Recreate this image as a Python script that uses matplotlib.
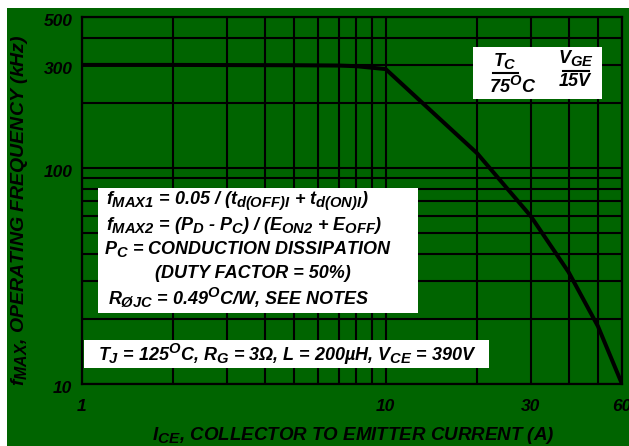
import matplotlib
matplotlib.use("Agg")
from matplotlib import pyplot as plt
from matplotlib.patches import Rectangle
from matplotlib.transforms import ScaledTranslation
import matplotlib._mathtext as mt

# bigger subscripts, like the reference
mt.SHRINK_FACTOR = 0.82

# curve
ice = [1, 2, 5, 7, 8, 10, 20, 30, 40, 50, 60]
fmax = [300, 300, 299, 298, 296, 287, 117, 60, 33, 18.5, 10]

x_grid = [1, 2, 3, 4, 5, 6, 7, 8, 9, 10, 20, 30, 40, 50, 60]
x_labels = {1: "1", 10: "10", 30: "30", 60: "60"}
y_grid = [10, 20, 30, 40, 50, 60, 70, 80, 90, 100, 200, 300, 400, 500]
y_labels = {10: "10", 100: "100", 300: "300", 500: "500"}

green = "#006400"
W, H = 629, 446

plt.rcParams["font.family"] = ["Liberation Sans", "DejaVu Sans"]
plt.rcParams["font.weight"] = "bold"
plt.rcParams["font.style"] = "italic"
plt.rcParams["mathtext.fontset"] = "custom"
plt.rcParams["mathtext.rm"] = "Liberation Sans:italic:bold"
plt.rcParams["mathtext.it"] = "Liberation Sans:italic:bold"
plt.rcParams["mathtext.bf"] = "Liberation Sans:italic:bold"

fig = plt.figure(figsize=(W / 100, H / 100), dpi=100)
fig.patch.set_facecolor("white")


def fx(x):
    return x / W


def fy(y):
    return 1 - y / H


# green backdrop
fig.patches.append(Rectangle((fx(7), 0), 1, fy(8), transform=fig.transFigure,
                             facecolor=green, edgecolor="none", zorder=-5))

ax = fig.add_axes([fx(82), fy(384), (622 - 82) / W, (384 - 17) / H])
ax.set_facecolor(green)
ax.set_xscale("log")
ax.set_yscale("log")
ax.set_xlim(1, 60)
ax.set_ylim(10, 500)

ax.set_xticks(x_grid, [x_labels.get(v, "") for v in x_grid])
ax.set_yticks(y_grid, [y_labels.get(v, "") for v in y_grid])
ax.minorticks_off()
ax.tick_params(length=0, labelsize=12.5)
ax.tick_params(axis="x", pad=11)
ax.tick_params(axis="y", pad=7)
shift = ScaledTranslation(0, -3 / 100, fig.dpi_scale_trans)
for lbl in ax.get_yticklabels():
    lbl.set_transform(lbl.get_transform() + shift)
ax.grid(True, color="black", linewidth=1.5)
for s in ax.spines.values():
    s.set_linewidth(1.6)
    s.set_color("black")

ax.plot(ice, fmax, color="black", linewidth=2.9, solid_joinstyle="miter", zorder=3)

fig.text(fx(20), fy(210), r"$f_{MAX}$, OPERATING FREQUENCY (kHz)", rotation=90,
         ha="center", va="center", fontsize=14)
fig.text(fx(353), fy(436), r"$I_{CE}$, COLLECTOR TO EMITTER CURRENT (A)",
         ha="center", va="center", fontsize=13.5)


def box(x0, y0, x1, y1):
    fig.patches.append(Rectangle((fx(x0), fy(y1)), (x1 - x0) / W, (y1 - y0) / H,
                                 transform=fig.transFigure, facecolor="white",
                                 edgecolor="none", zorder=5))


box(473, 47, 602, 99)
box(98, 188, 418, 313)
box(84, 340, 489, 368)

fs = 13
fig.text(fx(505), fy(61), r"$T_C$", ha="center", va="center", fontsize=fs, zorder=6)
fig.text(fx(513), fy(86), r"75$^O$C", ha="center", va="center", fontsize=fs, zorder=6)
fig.text(fx(576), fy(58), r"$V_{GE}$", ha="center", va="center", fontsize=fs, zorder=6)
fig.text(fx(575), fy(82), "15V", ha="center", va="center", fontsize=fs, zorder=6)
fig.lines.append(plt.Line2D([fx(493), fx(518)], [fy(73), fy(73)], transform=fig.transFigure,
                            color="black", linewidth=1.5, zorder=6))
fig.lines.append(plt.Line2D([fx(563), fx(589)], [fy(71), fy(71)], transform=fig.transFigure,
                            color="black", linewidth=1.5, zorder=6))

fig.text(fx(106), fy(201), r"$f_{MAX1}$ = 0.05 / ($t_{d(OFF)I}$ + $t_{d(ON)I}$)",
         va="center", fontsize=fs, zorder=6)
fig.text(fx(106), fy(226), r"$f_{MAX2}$ = ($P_D$ - $P_C$) / ($E_{ON2}$ + $E_{OFF}$)",
         va="center", fontsize=fs, zorder=6)
fig.text(fx(104), fy(249), r"$P_C$ = CONDUCTION DISSIPATION",
         va="center", fontsize=fs, zorder=6)
fig.text(fx(155), fy(273), "(DUTY FACTOR = 50%)",
         va="center", fontsize=fs, zorder=6)
fig.text(fx(108), fy(297), r"$R_{ØJC}$ = 0.49$^O$C/W, SEE NOTES",
         va="center", fontsize=fs, zorder=6)
fig.text(fx(98), fy(354), r"$T_J$ = 125$^O$C, $R_G$ = 3Ω, L = 200µH, $V_{CE}$ = 390V",
         va="center", fontsize=fs, zorder=6)

fig.savefig("out.png", dpi=100)
